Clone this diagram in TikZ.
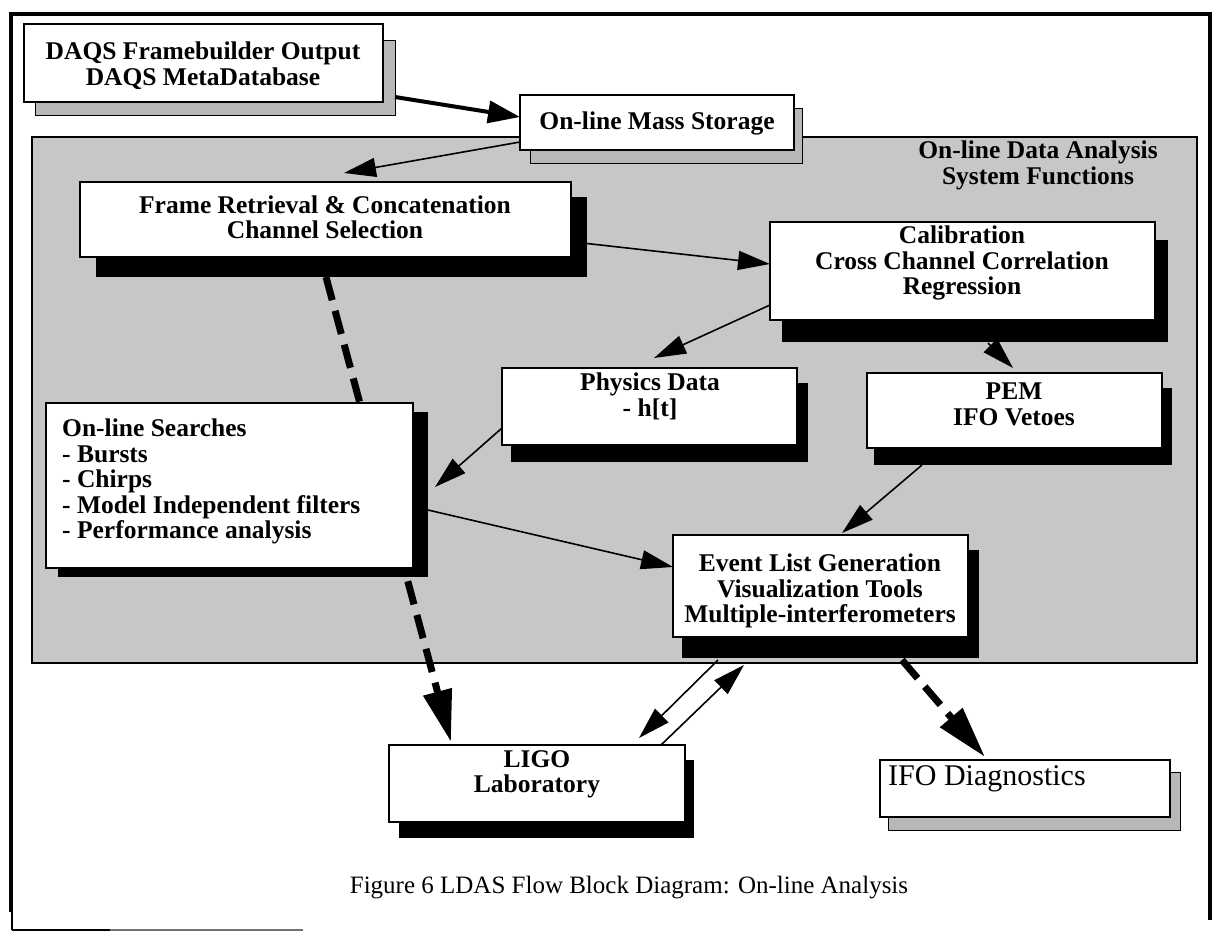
\documentclass[tikz,border=0pt]{standalone}
\usepackage{fontspec}
\setmainfont{Liberation Serif}
\usetikzlibrary{arrows.meta,calc}
\pgfdeclarelayer{bg}\pgfdeclarelayer{mid}\pgfsetlayers{bg,mid,main}
\begin{document}
\begin{tikzpicture}[x=1pt,y=-1pt,
  box/.style={draw, fill=white, line width=1.3pt, inner sep=0pt, outer sep=0pt},
  lbl/.style={font=\fontsize{25.5}{25.5}\selectfont\bfseries, align=center, inner sep=0pt},
  bsh/.style={fill=black},
  gsh/.style={fill=black!28, draw, line width=1pt},
  thinarr/.style={line width=1.6pt, -{Triangle[length=32pt,width=19pt]}},
  thickarr/.style={line width=4pt, -{Triangle[length=32pt,width=22pt]}},
  dsharr/.style={line width=7pt, dash pattern=on 24pt off 11pt, -{Triangle[length=52pt,width=28pt]}},
]
\useasboundingbox (0,0) rectangle (1214,932);
\begin{pgfonlayer}{bg}
  \fill[white] (0,0) rectangle (1214,932);
  \filldraw[fill=black!22, draw=black, line width=1.5pt] (32,137) rectangle (1197,663);
  \draw[line width=4pt] (11,912) -- (11,14) -- (1210,14) -- (1210,920);
  \draw[line width=2pt] (12,912) -- (12,930);
  \draw[line width=1.5pt] (12,930) -- (110,930);
  \draw[line width=1.5pt, black!55] (110,930) -- (303,930);
\end{pgfonlayer}

% shadows
\filldraw[gsh] (35,40) rectangle (395,115);
\filldraw[gsh] (530,108) rectangle (802,163);
\fill[bsh] (96,197) rectangle (587,277);
\fill[bsh] (782,240) rectangle (1168,342);
\fill[bsh] (511,383) rectangle (808,462);
\fill[bsh] (874,388) rectangle (1172,465);
\fill[bsh] (58,412) rectangle (428,577);
\fill[bsh] (682,550) rectangle (979,658);
\fill[bsh] (399,760) rectangle (694,838);
\filldraw[gsh] (888,772) rectangle (1180,830);

% boxes
\node[box, minimum width=359pt, minimum height=78pt] (daqs) at (203.5,63) {};
\node[box, minimum width=274pt, minimum height=55pt] (mass) at (657,122.5) {};
\node[box, minimum width=491pt, minimum height=75pt] (frame) at (325.5,219.5) {};
\node[box, minimum width=385pt, minimum height=98pt] (cal) at (962.5,271) {};
\node[box, minimum width=295pt, minimum height=77pt] (phys) at (649.5,406.5) {};
\node[box, minimum width=295pt, minimum height=75pt] (pem) at (1014.5,410.5) {};
\node[box, minimum width=367pt, minimum height=165pt] (search) at (229.5,485.5) {};
\node[box, minimum width=295pt, minimum height=102pt] (event) at (820.5,586) {};
\node[box, minimum width=296pt, minimum height=77pt] (ligo) at (537,783.5) {};
\node[box, minimum width=290pt, minimum height=57pt] (ifo) at (1025,788.5) {};

% texts
\node[lbl] (daqsT) at (203,65.5) {DAQS Framebuilder Output\\DAQS MetaDatabase};
\node[lbl] (massT) at (657,123) {On-line Mass Storage};
\node[lbl] (titleT) at (1038,165.5) {On-line Data Analysis\\System Functions};
\node[lbl] (frameT) at (325,217.5) {Frame Retrieval \& Concatenation\\Channel Selection};
\node[lbl] (calT) at (962,263) {Calibration\\Cross Channel Correlation\\Regression};
\node[lbl] (physT) at (650,396.5) {Physics Data\\- h[t]};
\node[lbl] (pemT) at (1014,404.5) {PEM\\IFO Vetoes};
\node[lbl, align=left, anchor=north west] (searchT) at (62,419) {On-line Searches\\- Bursts\\- Chirps\\- Model Independent filters\\- Performance analysis};
\node[lbl] (eventT) at (820,591) {Event List Generation\\Visualization Tools\\Multiple-interferometers};
\node[lbl] (ligoT) at (537,774.5) {LIGO\\Laboratory};
\node[font=\fontsize{30}{30}\selectfont, inner sep=0pt, anchor=west] (ifoT) at (888,779) {IFO Diagnostics};
\node[font=\fontsize{25}{25}\selectfont, inner sep=0pt] (cap) at (629,888) {Figure 6 LDAS Flow Block Diagram: On-line Analysis};

% dashed arrows (behind boxes)
\begin{pgfonlayer}{mid}
  \draw[dsharr] ($(frame.south)+(0.5,20)$) -- ($(ligo.north)+(-86,-3)$);
  \draw[dsharr] ($(event.south)+(81.5,23)$) -- ($(ifo.north)+(-40,-3)$);
\end{pgfonlayer}

% solid arrows
\draw[thickarr] ($(daqs.south east)+(12,-5)$) -- ($(mass.west)+(0,-5.5)$);
\draw[thinarr] ($(mass.south west)+(0,-8)$) -- ($(frame.north)+(18.5,-9)$);
\draw[thinarr] ($(frame.east)+(16,24)$) -- ($(cal.west)+(0,-7)$);
\draw[thinarr] ($(cal.west)+(0,34)$) -- ($(phys.north)+(4.5,-10)$);
\draw[thinarr] ($(cal.south)+(25.5,23)$) -- ($(pem.north)+(-1.5,-5)$);
\draw[thinarr] ($(phys.west)+(0,21.5)$) -- ($(search.east)+(22,1.5)$);
\draw[thinarr] ($(search.east)+(15,24.5)$) -- ($(event.west)+(0,-19)$);
\draw[thinarr] ($(pem.south)+(-92.5,17)$) -- ($(event.north)+(21.5,-2)$);
\draw[thinarr] ($(event.south)+(-102.5,23)$) -- ($(ligo.north)+(102,-7)$);
\draw[thinarr] ($(ligo.north)+(124,0)$) -- ($(event.south)+(-76.5,28)$);
\end{tikzpicture}
\end{document}
